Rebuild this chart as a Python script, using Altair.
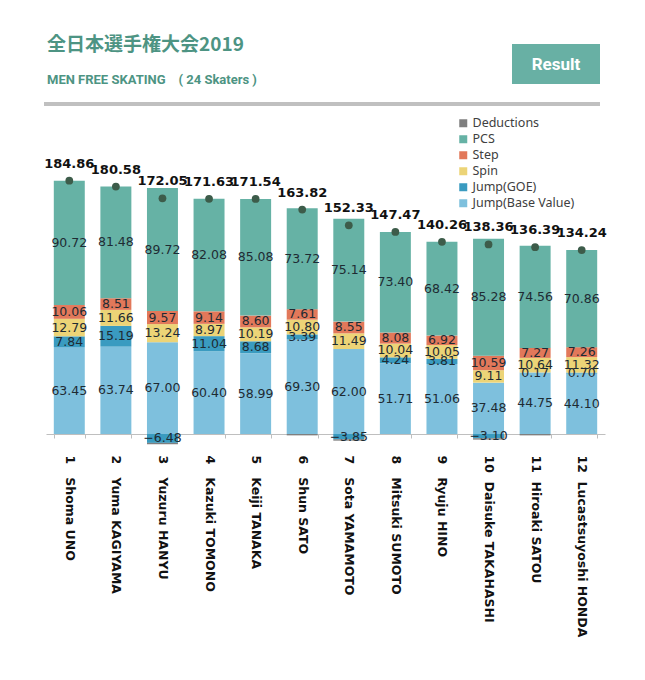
import altair as alt
import pandas as pd

NB = "\u00a0"

# ---------------- data ----------------
skaters = [
    "1" + NB * 3 + "Shoma UNO", "2" + NB * 3 + "Yuma KAGIYAMA", "3" + NB * 3 + "Yuzuru HANYU",
    "4" + NB * 3 + "Kazuki TOMONO", "5" + NB * 3 + "Keiji TANAKA", "6" + NB * 3 + "Shun SATO",
    "7" + NB * 3 + "Sota YAMAMOTO", "8" + NB * 3 + "Mitsuki SUMOTO", "9" + NB * 3 + "Ryuju HINO",
    "10" + NB * 2 + "Daisuke TAKAHASHI", "11" + NB * 2 + "Hiroaki SATOU",
    "12" + NB * 2 + "Lucastsuyoshi HONDA",
]
jump_base = [63.45, 63.74, 67.00, 60.40, 58.99, 69.30, 62.00, 51.71, 51.06, 37.48, 44.75, 44.10]
jump_goe = [7.84, 15.19, -6.48, 11.04, 8.68, 3.39, -3.85, 4.24, 3.81, -3.10, 0.17, 0.70]
spin = [12.79, 11.66, 13.24, 8.97, 10.19, 10.80, 11.49, 10.04, 10.05, 9.11, 10.64, 11.32]
step = [10.06, 8.51, 9.57, 9.14, 8.60, 7.61, 8.55, 8.08, 6.92, 10.59, 7.27, 7.26]
pcs = [90.72, 81.48, 89.72, 82.08, 85.08, 73.72, 75.14, 73.40, 68.42, 85.28, 74.56, 70.86]
deductions = [0, 0, -1, 0, 0, -1, -1, 0, 0, -1, -1, 0]
totals = [184.86, 180.58, 172.05, 171.63, 171.54, 163.82, 152.33, 147.47, 140.26, 138.36, 136.39, 134.24]

categories = ["Jump(Base Value)", "Jump(GOE)", "Spin", "Step", "PCS", "Deductions"]
legend_order = ["Deductions", "PCS", "Step", "Spin", "Jump(GOE)", "Jump(Base Value)"]
legend_colors = ["#7f7f7f", "#66b2a5", "#e2785a", "#ecd477", "#3a9bc0", "#7ec0dd"]

title_text = ["全日本選手権大会2019"]
subtitle_text = ["MEN FREE SKATING" + NB * 4 + "(" + NB + "24 Skaters" + NB + ")"]
button_text = ["Result"]

series = [jump_base, jump_goe, spin, step, pcs, deductions]
rows = []
for ci, (cat, vals) in enumerate(zip(categories, series)):
    for s, v in zip(skaters, vals):
        rows.append({"skater": s, "category": cat, "order": ci, "value": v})
df = pd.DataFrame(rows)
tot_df = pd.DataFrame({"skater": skaters, "total": totals})

# ---------------- chart ----------------
x_enc = alt.X(
    "skater:N", sort=skaters,
    scale=alt.Scale(paddingInner=0.335, paddingOuter=0.1675),
    axis=alt.Axis(
        title=None, domainColor="#bfbfbf", tickColor="#bfbfbf", tickSize=4,
        tickBand="extent", labelAngle=90, labelAlign="left", labelBaseline="middle",
        labelPadding=17, labelFont="DejaVu Sans", labelFontWeight="bold",
        labelFontSize=12.5, labelColor="#111111", labelLimit=0,
    ),
)
y_scale = alt.Scale(domain=[0, 200], nice=False, zero=True)

base = alt.Chart(df).transform_stack(
    stack="value", groupby=["skater"], as_=["y0", "y1"],
    sort=[alt.SortField("order", "ascending")], offset="zero",
)

bars = base.mark_bar(clip=False).encode(
    x=x_enc,
    y=alt.Y("y0:Q", scale=y_scale, axis=None),
    y2="y1:Q",
    color=alt.Color(
        "category:N",
        scale=alt.Scale(domain=legend_order, range=legend_colors),
        legend=alt.Legend(
            orient="none", legendX=411, legendY=-43, title=None,
            symbolType="square", symbolSize=64, symbolStrokeWidth=0,
            labelFont="Noto Sans", labelFontSize=12.5, labelColor="#404040",
            rowPadding=3, padding=0, labelOffset=3, symbolOffset=0,
        ),
    ),
)

seg_labels = base.transform_filter(
    alt.datum.category != "Deductions"
).transform_calculate(
    mid="(datum.y0 + datum.y1) / 2"
).mark_text(
    font="DejaVu Sans", fontSize=12.5, color="#1e2b33", baseline="middle", clip=False
).encode(
    x=alt.X("skater:N", sort=skaters),
    y=alt.Y("mid:Q", scale=y_scale),
    text=alt.Text("value:Q", format=".2f"),
)

dots = alt.Chart(tot_df).mark_circle(size=60, color="#3d5c4a", opacity=1).encode(
    x=alt.X("skater:N", sort=skaters),
    y=alt.Y("total:Q", scale=y_scale),
)
tot_labels = alt.Chart(tot_df).mark_text(
    font="DejaVu Sans", fontWeight="bold", fontSize=13, color="#111111",
    dy=-17, baseline="middle",
).encode(
    x=alt.X("skater:N", sort=skaters),
    y=alt.Y("total:Q", scale=y_scale),
    text=alt.Text("total:Q", format=".2f"),
)

# ---------------- header decorations ----------------
title_mark = alt.Chart(pd.DataFrame({"t": title_text})).mark_text(
    font="Noto Sans CJK JP", fontWeight="bold", fontSize=19, color="#4d9483",
    align="left", baseline="middle",
).encode(x=alt.value(1), y=alt.value(-115), text="t:N")

subtitle_mark = alt.Chart(pd.DataFrame({"t": subtitle_text})).mark_text(
    font="Roboto", fontWeight="bold", fontSize=13, color="#4d9483",
    align="left", baseline="middle",
).encode(x=alt.value(1), y=alt.value(-80), text="t:N")

button_rect = alt.Chart(pd.DataFrame({"t": button_text})).mark_rect(
    color="#68b0a4"
).encode(x=alt.value(466), x2=alt.value(554), y=alt.value(-116), y2=alt.value(-76))

button_label = alt.Chart(pd.DataFrame({"t": button_text})).mark_text(
    font="Roboto", fontWeight="bold", fontSize=17, color="white",
    align="center", baseline="middle",
).encode(x=alt.value(510), y=alt.value(-95), text="t:N")

sep_bar = alt.Chart(pd.DataFrame({"t": button_text})).mark_rect(
    color="#c0c0c0"
).encode(x=alt.value(-2), x2=alt.value(554), y=alt.value(-58), y2=alt.value(-54))

chart = alt.layer(
    bars, seg_labels, dots, tot_labels,
    title_mark, subtitle_mark, button_rect, button_label, sep_bar,
).properties(
    width=559, height=274,
    autosize=alt.AutoSizeParams(type="none"),
    padding={"left": 38, "top": 152, "right": 30, "bottom": 236},
    background="white",
).configure_view(strokeWidth=0)

chart.save("out.html", embed_options={"renderer": "svg", "actions": False})
